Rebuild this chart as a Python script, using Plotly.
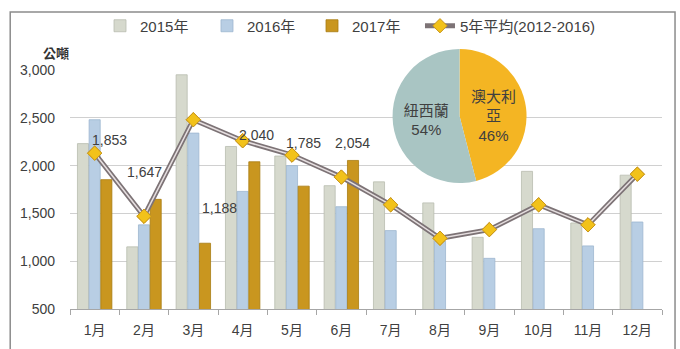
import plotly.graph_objects as go

months = ["1月", "2月", "3月", "4月", "5月", "6月", "7月", "8月", "9月", "10月", "11月", "12月"]
y2015 = [2230, 1150, 2950, 2200, 2100, 1790, 1830, 1610, 1250, 1940, 1400, 1900]
y2016 = [2480, 1380, 2340, 1730, 2000, 1570, 1320, 1210, 1030, 1340, 1160, 1410]
y2017 = [1853, 1647, 1188, 2040, 1785, 2054]
avg5 = [2130, 1470, 2480, 2260, 2110, 1880, 1590, 1240, 1330, 1590, 1380, 1910]
pie_labels = ["澳大利亞", "紐西蘭"]
pie_values = [46, 54]
pie_text = ["澳大利<br>亞<br>46%", "紐西蘭<br>54%"]

# label offsets (pixels) for the 2017 value labels
lbl_xshift = [15, 0, 26, 14, 11, 11]
lbl_yshift = [40, 27, 35, 27, 43, 17]

FONT = "Liberation Sans, Noto Sans CJK TC, sans-serif"
TXT = "#404040"
MK = dict(symbol="diamond", size=11, color="#f2c21a", line=dict(color="#c8961e", width=1))

fig = go.Figure()
fig.add_bar(x=months, y=y2015, name="2015年", legend="legend",
            marker=dict(color="#d6d9cd", line=dict(color="#b9bcb0", width=0.8)))
fig.add_bar(x=months, y=y2016, name="2016年", legend="legend2",
            marker=dict(color="#b8cee4", line=dict(color="#9db6cf", width=0.8)))
fig.add_bar(x=months[:len(y2017)], y=y2017, name="2017年", legend="legend3",
            marker=dict(color="#c9961f", line=dict(color="#a87c12", width=0.8)))

fig.add_scatter(x=months, y=avg5, mode="lines+markers", name="5年平均(2012-2016)", legend="legend4",
                line=dict(color="#7d7376", width=5), marker=MK)
fig.add_scatter(x=months, y=avg5, mode="lines", showlegend=False, hoverinfo="skip",
                line=dict(color="#e6dfe0", width=1.5))
fig.add_scatter(x=months, y=avg5, mode="markers", showlegend=False, hoverinfo="skip", marker=MK)

fig.add_pie(labels=pie_labels, values=pie_values, text=pie_text, textinfo="text",
            textposition="inside", insidetextorientation="horizontal",
            sort=False, direction="clockwise", rotation=0, showlegend=False,
            marker=dict(colors=["#f4b523", "#a9c5c3"]),
            textfont=dict(size=15, color=TXT, family=FONT),
            domain=dict(x=[0.544, 0.772], y=[0.4078, 0.8414]))

for i, v in enumerate(y2017):
    fig.add_annotation(x=months[i], y=v, text=f"{v:,}", showarrow=False,
                       xshift=lbl_xshift[i], yshift=lbl_yshift[i],
                       xanchor="center", yanchor="middle",
                       font=dict(size=14, color=TXT, family=FONT))

fig.add_annotation(x=-0.0236, y=0.8317, xref="paper", yref="paper", text="<b>公噸</b>",
                   xanchor="center", yanchor="middle",
                   showarrow=False, font=dict(size=13, color="#333333", family="Noto Sans CJK TC"))

fig.add_shape(type="rect", xref="paper", yref="paper", x0=-0.101, x1=1.022, y0=-0.2, y1=0.9612,
              line=dict(color="#8c8c8c", width=1.5), fillcolor="rgba(0,0,0,0)", layer="below")

def leg(x):
    return dict(orientation="h", x=x, y=0.9159, xanchor="left", yanchor="middle",
                font=dict(size=15, color=TXT, family=FONT), bgcolor="rgba(0,0,0,0)")

fig.update_layout(
    width=680, height=349,
    margin=dict(l=70, r=18, t=0, b=40),
    paper_bgcolor="white", plot_bgcolor="white",
    barmode="group", bargap=0.29, bargroupgap=0.05,
    font=dict(family=FONT, size=14, color=TXT),
    legend=leg(0.0507), legend2=leg(0.2314), legend3=leg(0.4088), legend4=leg(0.5912),
    xaxis=dict(type="category", range=[-0.5, 11.5], autorange=False, showgrid=False, showline=True,
               linecolor="#a6a6a6", linewidth=1,
               ticks="outside", tickson="boundaries", ticklen=5, tickcolor="#a6a6a6",
               ticklabelstandoff=8, tickfont=dict(size=14, color=TXT), automargin=False),
    yaxis=dict(range=[500, 3000], domain=[0, 0.77346], tickvals=[500, 1000, 1500, 2000, 2500, 3000],
               tickformat=",", showgrid=True, gridcolor="#d0d0d0", gridwidth=1, zeroline=False,
               showline=False, ticks="", ticklabelstandoff=14, tickfont=dict(size=14, color=TXT),
               automargin=False),
)

fig.write_html("out.html")
